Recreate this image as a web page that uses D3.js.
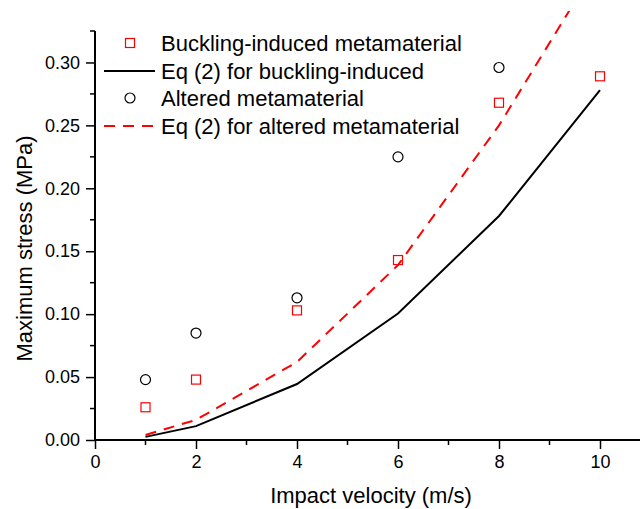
<!DOCTYPE html>
<html>
<head>
<meta charset="utf-8">
<script src="https://cdn.jsdelivr.net/npm/d3@7"></script>
<style>
  body { margin: 0; background: #fff; }
  svg { display: block; font-family: "Liberation Sans", Arial, sans-serif; }
</style>
</head>
<body>
<div id="chart"></div>
<script>
const velocity = [1, 2, 4, 6, 8, 10];
const bucklingMeasured = [0.026, 0.048, 0.103, 0.143, 0.268, 0.289];
const alteredVelocity = [1, 2, 4, 6, 8];
const alteredMeasured = [0.048, 0.085, 0.113, 0.225, 0.296];
const bucklingEq = [0.0025, 0.011, 0.0445, 0.1005, 0.178, 0.278];
const alteredEq = [0.004, 0.016, 0.062, 0.139, 0.25, 0.381];
const xTicks = [0, 2, 4, 6, 8, 10];
const yTicks = [0, 0.05, 0.10, 0.15, 0.20, 0.25, 0.30];
const legendLabels = [
  "Buckling-induced metamaterial",
  "Eq (2) for buckling-induced",
  "Altered metamaterial",
  "Eq (2) for altered metamaterial"
];

const width = 640, height = 509;
const margin = ({top: 31, right: 40, bottom: 69, left: 95});

const x = d3.scaleLinear().domain([0, 10]).range([margin.left, width - margin.right]);
const y = d3.scaleLinear().domain([0, 0.325]).range([height - margin.bottom, margin.top]);

const svg = d3.select("#chart").append("svg")
  .attr("width", width)
  .attr("height", height);

svg.append("defs").append("clipPath")
  .attr("id", "plot-clip")
  .append("rect")
    .attr("x", margin.left)
    .attr("y", 11)
    .attr("width", width - margin.left)
    .attr("height", y(0) - 11);

// axes
const xAxis = g => g
  .attr("transform", `translate(0,${y(0)})`)
  .call(d3.axisBottom(x).tickValues(xTicks).tickFormat(d3.format("d")).tickSize(9).tickSizeOuter(0).tickPadding(6))
  .call(g => g.select(".domain").remove())
  .call(g => g.append("line").attr("x1", x(0)).attr("x2", width).attr("stroke", "#000").attr("stroke-width", 2))
  .call(g => g.selectAll(".minor").data([1, 3, 5, 7, 9]).join("line")
      .attr("class", "minor")
      .attr("x1", d => x(d)).attr("x2", d => x(d))
      .attr("y2", 5)
      .attr("stroke", "#000").attr("stroke-width", 1.5));

const yAxis = g => g
  .attr("transform", `translate(${x(0)},0)`)
  .call(d3.axisLeft(y).tickValues(yTicks).tickFormat(d3.format(".2f")).tickSize(9).tickSizeOuter(0).tickPadding(6))
  .call(g => g.select(".domain").remove())
  .call(g => g.append("line").attr("y1", y(0)).attr("y2", y(0.325)).attr("stroke", "#000").attr("stroke-width", 2))
  .call(g => g.selectAll(".minor").data([0.025, 0.075, 0.125, 0.175, 0.225, 0.275, 0.325]).join("line")
      .attr("class", "minor")
      .attr("y1", d => y(d)).attr("y2", d => y(d))
      .attr("x2", -5)
      .attr("stroke", "#000").attr("stroke-width", 1.5));

svg.append("g").call(xAxis)
  .call(g => g.selectAll(".tick line").attr("stroke-width", 1.5))
  .call(g => g.selectAll(".tick text").attr("font-size", 18).attr("fill", "#000"));

svg.append("g").call(yAxis)
  .call(g => g.selectAll(".tick line").attr("stroke-width", 1.5))
  .call(g => g.selectAll(".tick text").attr("font-size", 18).attr("fill", "#000"));

svg.append("text")
  .attr("x", 371)
  .attr("y", 503)
  .attr("text-anchor", "middle")
  .attr("font-size", 22)
  .text("Impact velocity (m/s)");

svg.append("text")
  .attr("transform", `translate(32,${(y(0) + y(0.325)) / 2 + 13}) rotate(-90)`)
  .attr("text-anchor", "middle")
  .attr("font-size", 22)
  .text("Maximum stress (MPa)");

// lines
const line = d3.line()
  .x((d, i) => x(velocity[i]))
  .y(d => y(d));

const plot = svg.append("g").attr("clip-path", "url(#plot-clip)");

plot.append("path")
  .attr("d", line(bucklingEq))
  .attr("fill", "none")
  .attr("stroke", "#000")
  .attr("stroke-width", 2);

plot.append("path")
  .attr("d", line(alteredEq))
  .attr("fill", "none")
  .attr("stroke", "#ff0000")
  .attr("stroke-width", 2)
  .attr("stroke-dasharray", "11,8");

// markers
const sq = 9;
svg.append("g").selectAll("rect")
  .data(bucklingMeasured)
  .join("rect")
    .attr("x", (d, i) => x(velocity[i]) - sq / 2)
    .attr("y", d => y(d) - sq / 2)
    .attr("width", sq)
    .attr("height", sq)
    .attr("fill", "none")
    .attr("stroke", "#ff0000")
    .attr("stroke-width", 1.2);

svg.append("g").selectAll("circle")
  .data(alteredMeasured)
  .join("circle")
    .attr("cx", (d, i) => x(alteredVelocity[i]))
    .attr("cy", d => y(d))
    .attr("r", 5)
    .attr("fill", "none")
    .attr("stroke", "#000")
    .attr("stroke-width", 1.2);

// legend
const legend = svg.append("g");
const rowY = [43, 71, 98, 126];
legendLabels.forEach((label, i) => {
  const ly = rowY[i];
  if (i === 0) {
    legend.append("rect")
      .attr("x", 130 - sq / 2).attr("y", ly - sq / 2)
      .attr("width", sq).attr("height", sq)
      .attr("fill", "none").attr("stroke", "#ff0000").attr("stroke-width", 1.2);
  } else if (i === 2) {
    legend.append("circle")
      .attr("cx", 130).attr("cy", ly).attr("r", 5)
      .attr("fill", "none").attr("stroke", "#000").attr("stroke-width", 1.2);
  } else {
    legend.append("line")
      .attr("x1", 104).attr("x2", 155).attr("y1", ly).attr("y2", ly)
      .attr("stroke", i === 1 ? "#000" : "#ff0000")
      .attr("stroke-width", 2)
      .attr("stroke-dasharray", i === 1 ? null : "11,8");
  }
  legend.append("text")
    .attr("x", 161)
    .attr("y", ly + 7.5)
    .attr("font-size", 22)
    .text(label);
});
</script>
</body>
</html>
